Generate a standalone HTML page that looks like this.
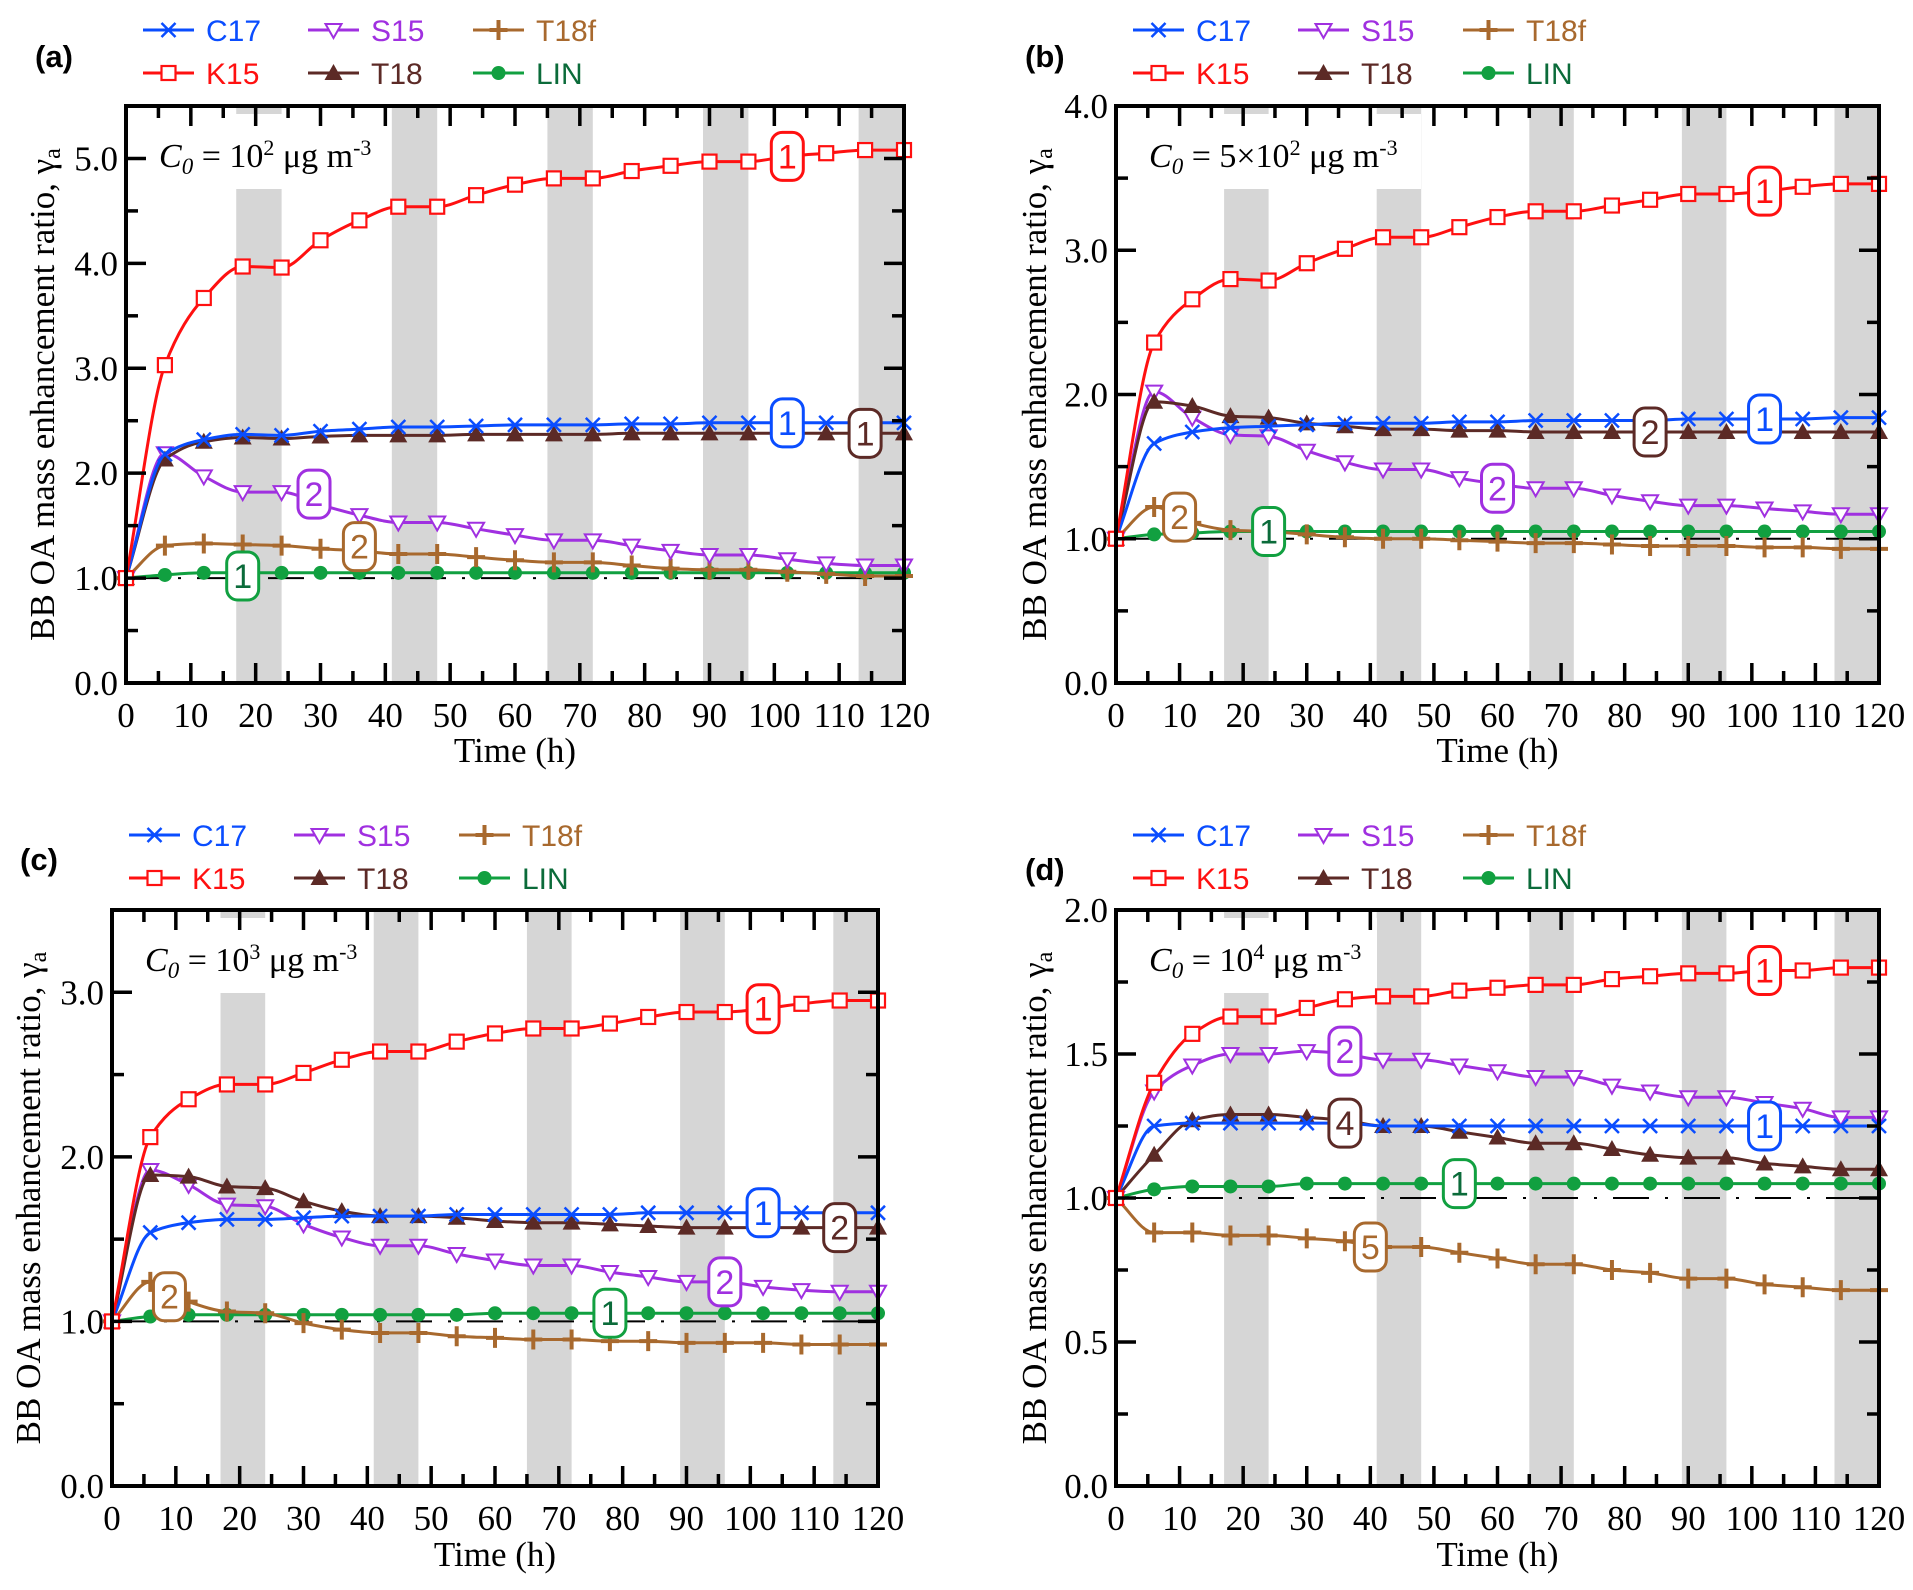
<!DOCTYPE html>
<html><head><meta charset="utf-8"><style>
html,body{margin:0;padding:0;background:#fff;}
svg{display:block;}
</style></head><body>
<svg id="fig" width="1913" height="1590" viewBox="0 0 1913 1590" xmlns="http://www.w3.org/2000/svg"></svg>
<script>
// ---- data (time 0..120 step 6) ----
const times = [0,6,12,18,24,30,36,42,48,54,60,66,72,78,84,90,96,102,108,114,120];
const xTickLabels = ['0','10','20','30','40','50','60','70','80','90','100','110','120'];
const nightBands = [[17,24],[41,48],[65,72],[89,96],[113,120]];
const seriesNames = ['C17','K15','S15','T18','T18f','LIN'];

const a_K15 = [1,3.03,3.67,3.97,3.96,4.22,4.41,4.54,4.54,4.65,4.75,4.81,4.81,4.88,4.93,4.97,4.97,5.02,5.05,5.08,5.08];
const a_C17 = [1,2.18,2.32,2.37,2.36,2.40,2.42,2.44,2.44,2.45,2.46,2.46,2.46,2.47,2.47,2.48,2.48,2.48,2.48,2.48,2.48];
const a_T18 = [1,2.13,2.30,2.34,2.33,2.35,2.36,2.36,2.36,2.37,2.37,2.37,2.37,2.38,2.38,2.38,2.38,2.38,2.38,2.38,2.38];
const a_S15 = [1,2.19,1.97,1.82,1.82,1.70,1.60,1.53,1.53,1.47,1.41,1.36,1.36,1.31,1.26,1.22,1.22,1.18,1.14,1.12,1.12];
const a_T18f = [1,1.31,1.33,1.32,1.31,1.28,1.26,1.23,1.23,1.20,1.17,1.15,1.15,1.12,1.09,1.08,1.08,1.06,1.04,1.02,1.02];
const a_LIN = [1,1.03,1.05,1.05,1.05,1.05,1.05,1.05,1.05,1.05,1.05,1.05,1.05,1.05,1.05,1.05,1.05,1.05,1.05,1.05,1.05];

const b_K15 = [1,2.36,2.66,2.80,2.79,2.91,3.01,3.09,3.09,3.16,3.23,3.27,3.27,3.31,3.35,3.39,3.39,3.41,3.44,3.46,3.46];
const b_C17 = [1,1.66,1.74,1.77,1.78,1.79,1.80,1.80,1.80,1.81,1.81,1.82,1.82,1.82,1.82,1.83,1.83,1.83,1.83,1.84,1.84];
const b_T18 = [1,1.95,1.92,1.85,1.84,1.80,1.78,1.76,1.76,1.75,1.75,1.74,1.74,1.74,1.74,1.74,1.74,1.74,1.74,1.74,1.74];
const b_S15 = [1,2.02,1.84,1.72,1.71,1.61,1.53,1.48,1.48,1.42,1.38,1.35,1.35,1.30,1.26,1.23,1.23,1.21,1.19,1.17,1.17];
const b_T18f = [1,1.22,1.11,1.06,1.05,1.03,1.01,1.00,1.00,0.99,0.98,0.97,0.97,0.96,0.95,0.95,0.95,0.94,0.94,0.93,0.93];
const b_LIN = [1,1.03,1.04,1.05,1.05,1.05,1.05,1.05,1.05,1.05,1.05,1.05,1.05,1.05,1.05,1.05,1.05,1.05,1.05,1.05,1.05];

const c_K15 = [1,2.12,2.35,2.44,2.44,2.51,2.59,2.64,2.64,2.70,2.75,2.78,2.78,2.81,2.85,2.88,2.88,2.90,2.93,2.95,2.95];
const c_C17 = [1,1.54,1.60,1.62,1.62,1.63,1.64,1.64,1.64,1.65,1.65,1.65,1.65,1.65,1.66,1.66,1.66,1.66,1.66,1.66,1.66];
const c_T18 = [1,1.89,1.88,1.82,1.81,1.73,1.67,1.64,1.64,1.63,1.61,1.60,1.60,1.59,1.58,1.57,1.57,1.57,1.57,1.57,1.57];
const c_S15 = [1,1.92,1.83,1.71,1.70,1.59,1.51,1.46,1.46,1.41,1.37,1.34,1.34,1.30,1.27,1.24,1.24,1.21,1.19,1.18,1.18];
const c_T18f = [1,1.24,1.12,1.06,1.05,0.99,0.95,0.93,0.93,0.91,0.90,0.89,0.89,0.88,0.88,0.87,0.87,0.87,0.86,0.86,0.86];
const c_LIN = [1,1.03,1.04,1.04,1.04,1.04,1.04,1.04,1.04,1.04,1.05,1.05,1.05,1.05,1.05,1.05,1.05,1.05,1.05,1.05,1.05];

const d_K15 = [1,1.40,1.57,1.63,1.63,1.66,1.69,1.70,1.70,1.72,1.73,1.74,1.74,1.76,1.77,1.78,1.78,1.79,1.79,1.80,1.80];
const d_C17 = [1,1.25,1.26,1.26,1.26,1.26,1.26,1.25,1.25,1.25,1.25,1.25,1.25,1.25,1.25,1.25,1.25,1.25,1.25,1.25,1.25];
const d_T18 = [1,1.15,1.27,1.29,1.29,1.28,1.27,1.25,1.25,1.23,1.21,1.19,1.19,1.17,1.15,1.14,1.14,1.12,1.11,1.10,1.10];
const d_S15 = [1,1.37,1.46,1.50,1.50,1.51,1.50,1.48,1.48,1.46,1.44,1.42,1.42,1.39,1.37,1.35,1.35,1.33,1.31,1.28,1.28];
const d_T18f = [1,0.88,0.88,0.87,0.87,0.86,0.85,0.83,0.83,0.81,0.79,0.77,0.77,0.75,0.74,0.72,0.72,0.70,0.69,0.68,0.68];
const d_LIN = [1,1.03,1.04,1.04,1.04,1.05,1.05,1.05,1.05,1.05,1.05,1.05,1.05,1.05,1.05,1.05,1.05,1.05,1.05,1.05,1.05];

// tags: [series, label text, time, value]
const a_tags = [['K15','1',102,5.02],['C17','1',102,2.48],['T18','1',114,2.38],['S15','2',29,1.80],['T18f','2',36,1.30],['LIN','1',18,1.02]];
const b_tags = [['K15','1',102,3.41],['C17','1',102,1.83],['T18','2',84,1.74],['S15','2',60,1.35],['T18f','2',10,1.15],['LIN','1',24,1.05]];
const c_tags = [['K15','1',102,2.90],['C17','1',102,1.66],['T18','2',114,1.57],['S15','2',96,1.24],['T18f','2',9,1.15],['LIN','1',78,1.05]];
const d_tags = [['K15','1',102,1.79],['C17','1',102,1.25],['T18','4',36,1.26],['S15','2',36,1.51],['T18f','5',40,0.83],['LIN','1',54,1.05]];

const colors = {C17:'#0a4dff',K15:'#ff1010',S15:'#a030e0',T18:'#5c2a26',T18f:'#a8692e',LIN:'#11a040'};
const textColors = {C17:'#0a4dff',K15:'#ff1010',S15:'#a030e0',T18:'#5c2a26',T18f:'#a8692e',LIN:'#0b6b3a'};

const panels = [
 {id:'a',L:126,R:904,T:106,B:683,ymax:5.5,ylab:['0.0','1.0','2.0','3.0','4.0','5.0'],yminor:0.5,
  d:{C17:a_C17,K15:a_K15,S15:a_S15,T18:a_T18,T18f:a_T18f,LIN:a_LIN},tags:a_tags,
  c0:'10<tspan baseline-shift="super" font-size="22">2</tspan> μg m<tspan baseline-shift="super" font-size="22">-3</tspan>',c0w:258,
  lx:[143,308,473],ly:[30,73],lab:[35,55],ytx:42,xt:762},
 {id:'b',L:1116,R:1879,T:106,B:683,ymax:4.0,ylab:['0.0','1.0','2.0','3.0','4.0'],yminor:0.5,
  d:{C17:b_C17,K15:b_K15,S15:b_S15,T18:b_T18,T18f:b_T18f,LIN:b_LIN},tags:b_tags,
  c0:'5×10<tspan baseline-shift="super" font-size="22">2</tspan> μg m<tspan baseline-shift="super" font-size="22">-3</tspan>',c0w:302,
  lx:[1133,1298,1463],ly:[30,73],lab:[1025,55],ytx:1034,xt:762},
 {id:'c',L:112,R:878,T:910,B:1486,ymax:3.5,ylab:['0.0','1.0','2.0','3.0'],yminor:0.5,
  d:{C17:c_C17,K15:c_K15,S15:c_S15,T18:c_T18,T18f:c_T18f,LIN:c_LIN},tags:c_tags,
  c0:'10<tspan baseline-shift="super" font-size="22">3</tspan> μg m<tspan baseline-shift="super" font-size="22">-3</tspan>',c0w:258,
  lx:[129,294,459],ly:[835,878],lab:[20,858],ytx:28,xt:1566},
 {id:'d',L:1116,R:1879,T:910,B:1486,ymax:2.0,ylab:['0.0','0.5','1.0','1.5','2.0'],yminor:0.25,
  d:{C17:d_C17,K15:d_K15,S15:d_S15,T18:d_T18,T18f:d_T18f,LIN:d_LIN},tags:d_tags,
  c0:'10<tspan baseline-shift="super" font-size="22">4</tspan> μg m<tspan baseline-shift="super" font-size="22">-3</tspan>',c0w:258,
  lx:[1133,1298,1463],ly:[835,878],lab:[1025,868],ytx:1034,xt:1566}
];

const NS='http://www.w3.org/2000/svg';
const svg=document.getElementById('fig');
function mk(tag,attrs,parent){const e=document.createElementNS(NS,tag);for(const k in attrs)e.setAttribute(k,attrs[k]);(parent||svg).appendChild(e);return e;}

function marker(g,name,x,y){
  const c=colors[name];let m;
  if(name==='C17'){m=mk('path',{d:`M${x-7},${y-7}L${x+7},${y+7}M${x-7},${y+7}L${x+7},${y-7}`,stroke:c,'stroke-width':2.5,fill:'none'},g);}
  else if(name==='K15'){m=mk('rect',{x:x-7,y:y-7,width:14,height:14,stroke:c,'stroke-width':2.2,fill:'#fff'},g);}
  else if(name==='S15'){m=mk('path',{d:`M${x-8},${y-6}L${x+8},${y-6}L${x},${y+8}Z`,stroke:c,'stroke-width':2,fill:'#fff'},g);}
  else if(name==='T18'){m=mk('path',{d:`M${x-9},${y+7}L${x+9},${y+7}L${x},${y-9}Z`,fill:c},g);}
  else if(name==='T18f'){m=mk('path',{d:`M${x-9},${y}L${x+9},${y}M${x},${y-10}L${x},${y+10}`,stroke:c,'stroke-width':4,fill:'none'},g);}
  else {m=mk('circle',{cx:x,cy:y,r:7,fill:c},g);}
  
  
}

// monotone cubic (Fritsch-Carlson) path
function smoothPath(pts){
  const n=pts.length,dx=[],s=[],m=[];
  for(let i=0;i<n-1;i++){dx[i]=pts[i+1][0]-pts[i][0];s[i]=(pts[i+1][1]-pts[i][1])/dx[i];}
  m[0]=s[0];m[n-1]=s[n-2];
  for(let i=1;i<n-1;i++){
    if(s[i-1]*s[i]<=0)m[i]=0;
    else{const w1=2*dx[i]+dx[i-1],w2=dx[i]+2*dx[i-1];m[i]=(w1+w2)/(w1/s[i-1]+w2/s[i]);}
  }
  let d=`M${pts[0][0]},${pts[0][1]}`;
  for(let i=0;i<n-1;i++){
    const h=dx[i]/3;
    d+=`C${(pts[i][0]+h).toFixed(1)},${(pts[i][1]+m[i]*h).toFixed(1)} ${(pts[i+1][0]-h).toFixed(1)},${(pts[i+1][1]-m[i+1]*h).toFixed(1)} ${pts[i+1][0].toFixed(1)},${pts[i+1][1].toFixed(1)}`;
  }
  return d;
}

panels.forEach(p=>{
  const g=mk('g',{});
  
  
  const X=t=>p.L+(p.R-p.L)*t/120;
  const Y=v=>p.B-(p.B-p.T)*v/p.ymax;
  nightBands.forEach(b=>{
    const r=mk('rect',{x:X(b[0]),y:p.T,width:X(b[1])-X(b[0]),height:p.B-p.T,fill:'#d6d6d6'},g);
    
    
  });
  const wb=mk('rect',{x:p.L+3,y:p.T+8,width:p.c0w,height:75,fill:'#fff'},g);
  
  
  const c0=mk('text',{x:p.L+33,y:p.T+61,'font-family':'Liberation Serif, serif','font-size':34,fill:'#000'},g);
  c0.innerHTML='<tspan font-style="italic">C<tspan font-size="23" dy="7">0</tspan></tspan><tspan dy="-7"> = </tspan>'+p.c0;
  
  
  const ref=mk('line',{x1:p.L,x2:p.R,y1:Y(1),y2:Y(1),stroke:'#000','stroke-width':2,'stroke-dasharray':'36,16,3,16'},g);
  
  
  const order=['LIN','T18f','S15','T18','C17','K15'];
  order.forEach(name=>{
    const vals=p.d[name];
    const pts=times.map((t,i)=>[X(t),Y(vals[i])]);
    const sg=mk('g',{},g);
    
    
    const ln=mk('path',{d:smoothPath(pts),stroke:colors[name],'stroke-width':3,fill:'none'},sg);
    
    
    pts.forEach(q=>marker(sg,name,q[0],q[1]));
  });
  p.tags.forEach(tg=>{
    const x=X(tg[2]),y=Y(tg[3]);
    const tgG=mk('g',{},g);
    
    
    mk('rect',{x:x-16,y:y-24,width:32,height:48,rx:11,fill:'#fff',stroke:colors[tg[0]],'stroke-width':3},tgG);
    const tt=mk('text',{x:x,y:y+12,'text-anchor':'middle','font-family':'Liberation Sans, sans-serif','font-size':34,fill:textColors[tg[0]]},tgG);
    tt.textContent=tg[1];
  });
  const fr=mk('rect',{x:p.L,y:p.T,width:p.R-p.L,height:p.B-p.T,fill:'none',stroke:'#000','stroke-width':4},g);
  
  
  for(let t=0;t<=120;t+=5){
    const maj=t%10===0,len=maj?20:12,x=X(t);
    mk('line',{x1:x,x2:x,y1:p.B,y2:p.B-len,stroke:'#000','stroke-width':3.5},g);
    mk('line',{x1:x,x2:x,y1:p.T,y2:p.T+len,stroke:'#000','stroke-width':3.5},g);
  }
  xTickLabels.forEach((lb,i)=>{
    const tx=mk('text',{x:X(i*10),y:p.B+44,'text-anchor':'middle','font-family':'Liberation Serif, serif','font-size':35},g);
    tx.textContent=lb;
    
    
  });
  const nMinor=Math.round(p.ymax/p.yminor);
  const majStep=(p.yminor===0.25)?2:2;
  for(let k=0;k<=nMinor;k++){
    const v=k*p.yminor;
    const maj=(k%majStep===0);
    const len=maj?20:12,y=Y(v);
    mk('line',{x1:p.L,x2:p.L+len,y1:y,y2:y,stroke:'#000','stroke-width':3.5},g);
    mk('line',{x1:p.R,x2:p.R-len,y1:y,y2:y,stroke:'#000','stroke-width':3.5},g);
  }
  p.ylab.forEach(lb=>{
    const ty=mk('text',{x:p.L-8,y:Y(parseFloat(lb))+12,'text-anchor':'end','font-family':'Liberation Serif, serif','font-size':35},g);
    ty.textContent=lb;
    
    
  });
  const xt=mk('text',{x:(p.L+p.R)/2,y:p.xt,'text-anchor':'middle','font-family':'Liberation Serif, serif','font-size':35},g);
  xt.textContent='Time (h)';
  
  
  const yt=mk('text',{x:0,y:0,'text-anchor':'middle','font-family':'Liberation Serif, serif','font-size':35,transform:`translate(${p.ytx+12},${(p.T+p.B)/2}) rotate(-90)`},g);
  yt.innerHTML='BB OA mass enhancement ratio, γ<tspan font-size="24" dy="6">a</tspan>';
  
  
  const pl=mk('text',{x:p.lab[0],y:p.lab[1]+12,'font-family':'Liberation Sans, sans-serif','font-size':31,'font-weight':'bold'},g);
  pl.textContent='('+p.id+')';
  
  
  const lg=mk('g',{},g);
  
  
  const legOrder=[['C17',0,0],['S15',1,0],['T18f',2,0],['K15',0,1],['T18',1,1],['LIN',2,1]];
  legOrder.forEach(e=>{
    const x=p.lx[e[1]],y=p.ly[e[2]];
    const eg=mk('g',{},lg);
    
    
    mk('line',{x1:x,x2:x+51,y1:y,y2:y,stroke:colors[e[0]],'stroke-width':3},eg);
    marker(eg,e[0],x+25.5,y);
    const lt=mk('text',{x:x+63,y:y+11,'font-family':'Liberation Sans, sans-serif','font-size':30,fill:textColors[e[0]]},eg);
    lt.textContent=e[0];
  });
});
</script>
</body></html>
